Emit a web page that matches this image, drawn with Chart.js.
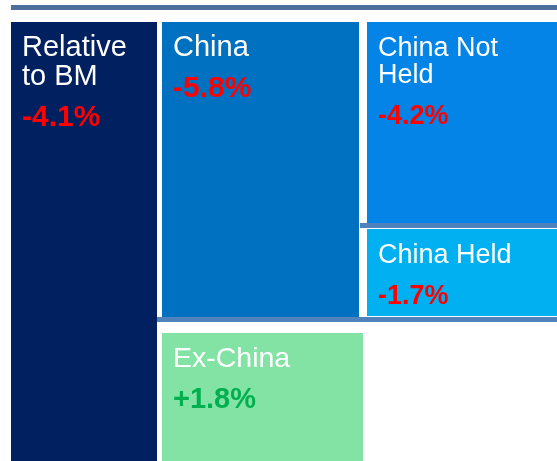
<!DOCTYPE html>
<html>
<head>
<meta charset="utf-8">
<script src="https://cdn.jsdelivr.net/npm/chart.js@4.4.1/dist/chart.umd.min.js"></script>
<style>
  html, body { margin: 0; padding: 0; background: #fff; }
  #wrap { position: relative; width: 557px; height: 461px; }
  #rule { position: absolute; left: 11px; top: 5px; width: 546px; height: 5px; background: #4d6f9c; }
  canvas { position: absolute; left: 0; top: 0; }
</style>
</head>
<body>
<div id="wrap">
  <div id="rule"></div>
  <canvas id="attribChart" width="557" height="461"></canvas>
</div>
<script>
// Segments and their relative return vs. benchmark (%)
const segments = ["Relative to BM", "China", "China Not Held", "China Held", "Ex-China"];
const relReturns = [-4.1, -5.8, -4.2, -1.7, 1.8];
const boxColors = ["#002060", "#0070c0", "#0584e8", "#00b0f0", "#83e3a4"];

// Box layout in chart-area units (x 0..546, y 0..439, top-down) plus text sizes
const boxes = [
  { x0: 0, x1: 146, y0: 0, y1: 439, label: 29, value: 30 },
  { x0: 151, x1: 348, y0: 0, y1: 295, label: 29, value: 30 },
  { x0: 356, x1: 546, y0: 0, y1: 201, label: 27, value: 27 },
  { x0: 356, x1: 546, y0: 207, y1: 294, label: 27, value: 27 },
  { x0: 151, x1: 352, y0: 311, y1: 439, label: 28.5, value: 29 }
];
const dividers = [
  { x0: 146, x1: 546, y0: 295, y1: 300 },
  { x0: 349, x1: 546, y0: 201, y1: 206 }
];

const fmtPct = v => (v > 0 ? "+" : "") + v.toFixed(1) + "%";

function wrapWords(ctx, text, maxW) {
  const words = text.split(" ");
  const lines = [];
  let line = "";
  words.forEach(w => {
    const test = line ? line + " " + w : w;
    if (line && ctx.measureText(test).width > maxW) {
      lines.push(line);
      line = w;
    } else {
      line = test;
    }
  });
  if (line) lines.push(line);
  return lines;
}

const treemapBoxes = {
  id: "treemapBoxes",
  afterDatasetsDraw(chart) {
    const { ctx, scales: { x, y } } = chart;
    const rect = b => {
      const left = x.getPixelForValue(b.x0), right = x.getPixelForValue(b.x1);
      const top = y.getPixelForValue(b.y0), bottom = y.getPixelForValue(b.y1);
      return { left, top, w: right - left, h: bottom - top };
    };
    ctx.save();
    boxes.forEach((b, i) => {
      const r = rect(b);
      ctx.fillStyle = boxColors[i];
      ctx.fillRect(r.left, r.top, r.w, r.h);

      ctx.textAlign = "left";
      ctx.textBaseline = "alphabetic";
      ctx.fillStyle = "#ffffff";
      ctx.font = b.label + "px 'Liberation Sans', Arial, sans-serif";
      const lines = wrapWords(ctx, segments[i], r.w - 22);
      let base = r.top + 34;
      lines.forEach((ln, k) => {
        ctx.fillText(ln, r.left + 11, base + k * b.label);
      });
      base += (lines.length - 1) * b.label + 41;
      ctx.font = "bold " + b.value + "px 'Liberation Sans', Arial, sans-serif";
      ctx.fillStyle = relReturns[i] < 0 ? "#ff0000" : "#00b050";
      ctx.fillText(fmtPct(relReturns[i]), r.left + 11, base);
    });
    ctx.fillStyle = "#4f81bd";
    dividers.forEach(d => {
      const r = rect(d);
      ctx.fillRect(r.left, r.top, r.w, r.h);
    });
    ctx.restore();
  }
};

new Chart(document.getElementById("attribChart"), {
  type: "scatter",
  data: {
    datasets: [{
      data: boxes.map(b => ({ x: (b.x0 + b.x1) / 2, y: (b.y0 + b.y1) / 2 })),
      pointRadius: 0
    }]
  },
  options: {
    responsive: false,
    animation: false,
    devicePixelRatio: 1,
    layout: { padding: { left: 11, top: 22, right: 0, bottom: 0 } },
    scales: {
      x: { type: "linear", min: 0, max: 546, display: false },
      y: { type: "linear", min: 0, max: 439, reverse: true, display: false }
    },
    plugins: {
      legend: { display: false },
      tooltip: { enabled: false }
    }
  },
  plugins: [treemapBoxes]
});
</script>
</body>
</html>
